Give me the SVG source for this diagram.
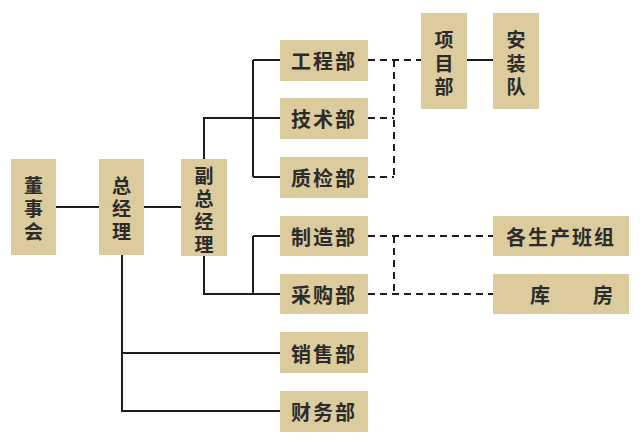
<svg xmlns="http://www.w3.org/2000/svg" width="640" height="445" viewBox="0 0 640 445">
<style>
.b{fill:#dccb9d}
text{font-family:"Noto Sans CJK SC","Noto Sans CJK JP",sans-serif;font-size:20px;font-weight:bold;fill:#2b2b2b;text-anchor:middle;dominant-baseline:central}
.v{font-size:19px}
.s{stroke:#1e1e1e;stroke-width:2;fill:none}
.d{stroke:#1e1e1e;stroke-width:2;fill:none;stroke-dasharray:7,5}
</style>
<rect width="640" height="445" fill="#fff"/>
<g id="connectors">
<path class="s" d="M56 207H99M144 207H181M204 195V118H280M253 60V177M253 60H280M253 177H280M204 256V294H280M253 236V294M253 236H280M122 255V411H280M122 353H280M467 60H493"/>
<path class="d" d="M368 60H421M394 60V177M368 118H394M368 177H394M368 236H493M368 294H493M394 236V294"/>
</g>
<g id="dongshihui"><rect class="b" x="11" y="159" width="45" height="96"/><text class="v"><tspan x="33.5" y="184">董</tspan><tspan x="33.5" y="207">事</tspan><tspan x="33.5" y="230">会</tspan></text></g>
<g id="zongjingli"><rect class="b" x="99" y="159" width="45" height="96"/><text class="v"><tspan x="121.5" y="184">总</tspan><tspan x="121.5" y="207">经</tspan><tspan x="121.5" y="230">理</tspan></text></g>
<g id="fuzongjingli"><rect class="b" x="181" y="159" width="46" height="97"/><text class="v"><tspan x="204" y="174">副</tspan><tspan x="204" y="197">总</tspan><tspan x="204" y="220">经</tspan><tspan x="204" y="243">理</tspan></text></g>
<g id="gongcheng"><rect class="b" x="280" y="40" width="88" height="41"/><text x="324" y="60" letter-spacing="2">工程部</text></g>
<g id="jishu"><rect class="b" x="280" y="98" width="88" height="41"/><text x="324" y="118" letter-spacing="2">技术部</text></g>
<g id="zhijian"><rect class="b" x="280" y="157" width="88" height="41"/><text x="324" y="177" letter-spacing="2">质检部</text></g>
<g id="zhizao"><rect class="b" x="280" y="216" width="88" height="40"/><text x="324" y="236" letter-spacing="2">制造部</text></g>
<g id="caigou"><rect class="b" x="280" y="274" width="88" height="40"/><text x="324" y="294" letter-spacing="2">采购部</text></g>
<g id="xiaoshou"><rect class="b" x="280" y="332" width="88" height="41"/><text x="324" y="353" letter-spacing="2">销售部</text></g>
<g id="caiwu"><rect class="b" x="280" y="391" width="88" height="41"/><text x="324" y="411" letter-spacing="2">财务部</text></g>
<g id="xiangmu"><rect class="b" x="421" y="13" width="46" height="96"/><text class="v"><tspan x="444" y="38">项</tspan><tspan x="444" y="62">目</tspan><tspan x="444" y="85">部</tspan></text></g>
<g id="anzhuang"><rect class="b" x="493" y="13" width="46" height="96"/><text class="v"><tspan x="516" y="38">安</tspan><tspan x="516" y="62">装</tspan><tspan x="516" y="85">队</tspan></text></g>
<g id="banzu"><rect class="b" x="493" y="216" width="136" height="40"/><text x="561" y="236" letter-spacing="2">各生产班组</text></g>
<g id="kufang"><rect class="b" x="493" y="274" width="136" height="40"/><text><tspan x="540" y="294">库</tspan><tspan x="603" y="294">房</tspan></text></g>
</svg>
